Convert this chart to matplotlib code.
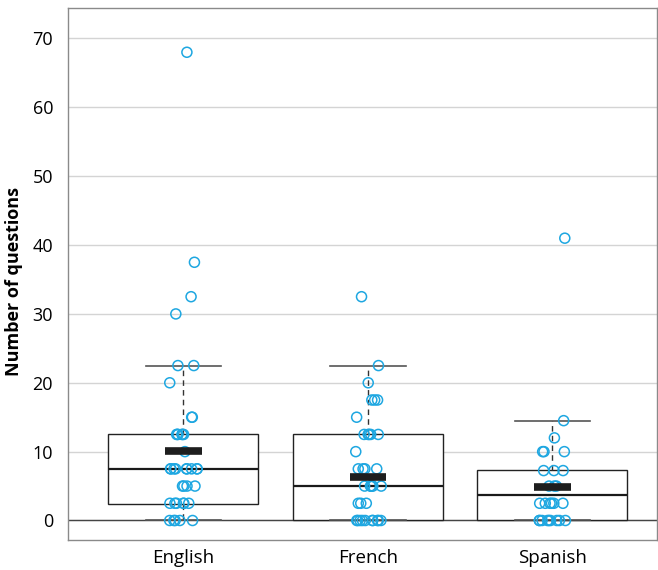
import numpy as np
import matplotlib
matplotlib.use("Agg")
import matplotlib.pyplot as plt

plt.rcParams["font.family"] = ["Open Sans", "DejaVu Sans"]

# ---------------------------------------------------------------------------
# Data
# ---------------------------------------------------------------------------
languages = ["English", "French", "Spanish"]

english = [68, 37.5, 32.5, 30, 22.5, 22.5, 20, 15, 15] + [12.5] * 6 + [10] \
          + [7.5] * 9 + [5] * 4 + [2.5] * 6 + [0] * 5
french = [32.5, 22.5, 20, 17.5, 17.5, 17.5, 15] + [12.5] * 5 + [10] \
         + [7.5] * 4 + [5] * 6 + [2.5] * 3 + [0] * 10
spanish = [41, 14.5, 12] + [10] * 3 + [7.25] * 3 + [5] * 3 + [2.5] * 6 + [0] * 9
groups = [english, french, spanish]

# box summary as drawn in the reference
q1 = [2.35, 0, 0]
medians = [7.5, 5, 3.7]
q3 = [12.5, 12.5, 7.4]
whis_lo = [0, 0, 0]
whis_hi = [22.5, 22.5, 14.5]
means = [10.05, 6.35, 4.8]

POINT_COL = "#1ea7e1"

fig = plt.figure(figsize=(6.58, 5.70), dpi=100)
ax = fig.add_axes([0.1038, 0.0535, 0.8954, 0.9325])

stats = [dict(q1=a, med=m, q3=b, whislo=lo, whishi=hi, fliers=[], label=l)
         for a, m, b, lo, hi, l in zip(q1, medians, q3, whis_lo, whis_hi, languages)]
pos = np.arange(len(languages))
ax.bxp(stats, positions=pos, widths=0.813, showfliers=False, patch_artist=True,
       boxprops=dict(facecolor="white", edgecolor="#222222", linewidth=1.0),
       medianprops=dict(color="#1a1a1a", linewidth=1.6),
       whiskerprops=dict(color="#333333", linewidth=1.0, linestyle=(0, (4, 3))),
       capprops=dict(color="#555555", linewidth=1.2),
       capwidths=0.407, zorder=2)

# jittered points
rng = np.random.default_rng(7)
for i, vals in enumerate(groups):
    vals = np.asarray(vals, dtype=float)
    xs = i + rng.uniform(-0.075, 0.075, size=len(vals))
    ax.scatter(xs, vals, s=52, facecolors="none", edgecolors=POINT_COL,
               linewidths=1.1, zorder=4)

# mean bars
ax.hlines(means, pos - 0.1, pos + 0.1, colors="#1e1e1e", linewidth=5.5, zorder=5)

ax.set_xlim(-0.624, 2.569)
ax.set_ylim(-2.76, 74.43)
ax.set_yticks(range(0, 71, 10))
ax.set_xticks(pos)
ax.set_xticklabels(languages, fontsize=13.5)
ax.tick_params(axis="y", length=0, pad=11, labelsize=13)
ax.tick_params(axis="x", length=0, pad=7)
ax.yaxis.grid(True, color="#d4d4d4", linewidth=1.0)
ax.set_axisbelow(True)
ax.axhline(0, color="#444444", linewidth=1.0, zorder=1)
ax.set_ylabel("Number of questions", fontsize=13, fontweight="bold")
ax.yaxis.set_label_coords(-0.077, 0.485)

for s in ax.spines.values():
    s.set_color("#8a8a8a")
    s.set_linewidth(1.0)

fig.savefig("out.png", dpi=100)
